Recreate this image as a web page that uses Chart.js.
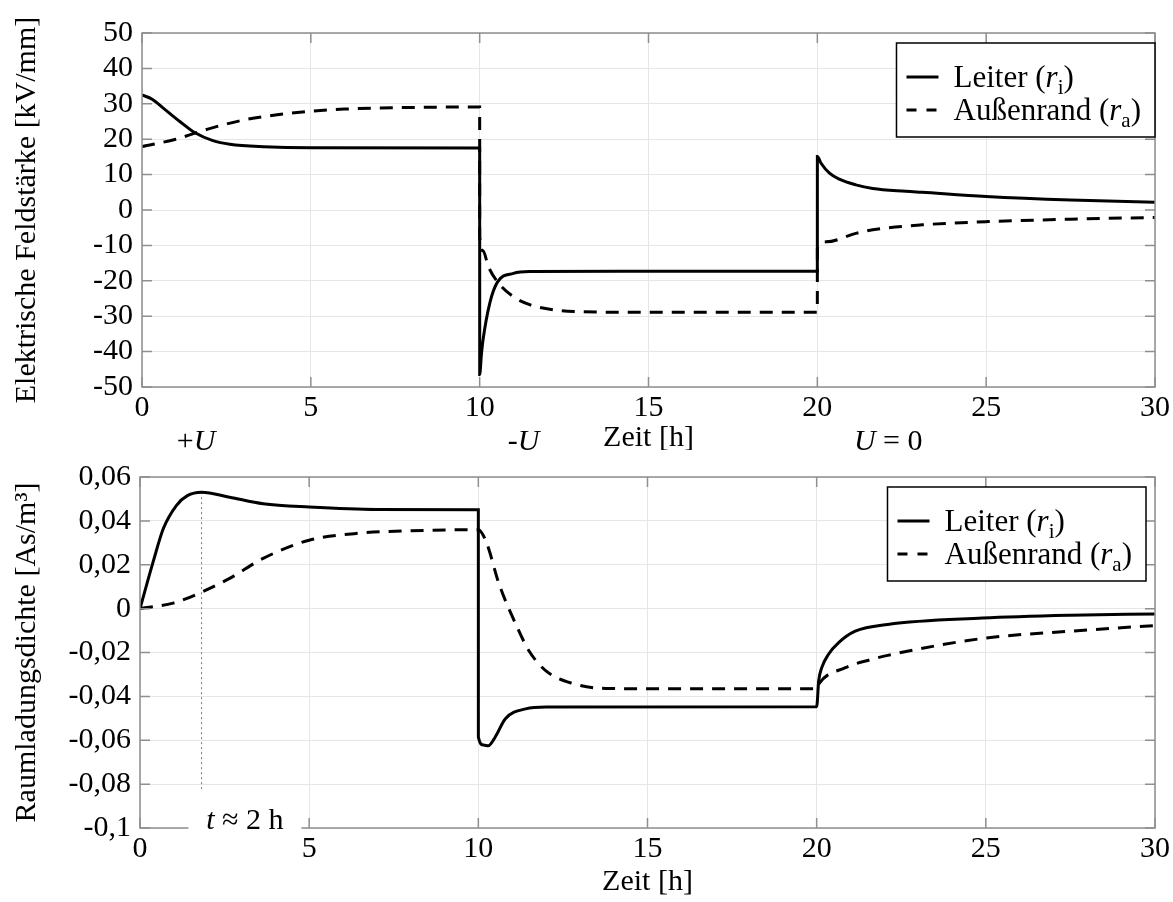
<!DOCTYPE html>
<html>
<head>
<meta charset="utf-8">
<script src="https://cdn.jsdelivr.net/npm/chart.js@4.4.0/dist/chart.umd.min.js"></script>
<style>
body { margin: 0; background: #fff; }
canvas { position: absolute; left: 0; }
#topChart { top: 0; }
#bottomChart { top: 450px; }
</style>
</head>
<body>
<canvas id="topChart" width="1173" height="450"></canvas>
<canvas id="bottomChart" width="1173" height="452"></canvas>
<script>
// Elektrische Feldstärke (oben), Zeit in h
const eLeiterT = [0, 0.3, 0.63, 1.12, 1.57, 2.1, 2.6, 3.6, 5, 10, 10.001, 10.05, 10.1, 10.3, 10.53, 11, 11.5, 15, 20, 20.001, 20.11, 20.36, 20.65, 21.14, 21.64, 22.62, 23.1, 25, 27.5, 30];
const eLeiterV = [32.5, 31.3, 28.8, 25.0, 21.8, 19.6, 18.6, 17.9, 17.6, 17.5, -46.5, -41, -36.7, -26.3, -20.3, -17.9, -17.4, -17.3, -17.3, 15.1, 13.2, 10.4, 8.7, 7.1, 6.1, 5.3, 5.0, 3.8, 2.8, 2.2];
const eAussenT = [0, 1, 1.57, 2, 3, 4, 5, 6, 7.5, 10, 10.001, 10.1, 10.25, 10.53, 11, 11.5, 12.2, 13, 15, 20, 20.001, 20.26, 21.14, 21.64, 23.1, 25, 27.5, 30];
const eAussenV = [17.9, 20.0, 21.7, 23.0, 25.4, 26.9, 27.9, 28.5, 28.9, 29.1, -7.5, -11.5, -15.8, -20.3, -24.5, -26.8, -28.2, -28.7, -28.9, -28.9, -10.8, -9.0, -6.6, -5.6, -4.2, -3.3, -2.6, -2.1];

// Raumladungsdichte (unten)
const rhoLeiterT = [0, 0.39, 0.69, 1.08, 1.4, 1.82, 2.65, 3.64, 5, 7, 10, 10.001, 10.15, 10.3, 10.5, 10.8, 11.4, 12, 20, 20.06, 20.15, 20.35, 20.65, 21.14, 22.1, 24.9, 27.5, 30];
const rhoLeiterV = [0, 0.0214, 0.0365, 0.0471, 0.0515, 0.0531, 0.0508, 0.0478, 0.0463, 0.0452, 0.0451, -0.0585, -0.0622, -0.0625, -0.0585, -0.0502, -0.0457, -0.0449, -0.0447, -0.0329, -0.0269, -0.0208, -0.0155, -0.0103, -0.0072, -0.0043, -0.003, -0.0024];
const rhoAussenT = [0, 0.98, 1.82, 2.65, 3.64, 5, 6.57, 8, 10, 10.23, 10.62, 11.11, 11.5, 12, 12.78, 13.77, 15, 20, 20.06, 20.85, 21.63, 22.1, 24.9, 27.5, 30];
const rhoAussenV = [0, 0.0025, 0.0075, 0.0138, 0.0229, 0.0312, 0.0345, 0.0355, 0.036, 0.0305, 0.0109, -0.0072, -0.0193, -0.0284, -0.0341, -0.0364, -0.0365, -0.0365, -0.0344, -0.0269, -0.0231, -0.0213, -0.0136, -0.0103, -0.0077];

// gestrichelte Markierung bei t ≈ 2 h
const markerT = [1.82, 1.82];
const markerV = [0.0531, -0.0834];

// Achsen
const xTicks = { min: 0, max: 30, step: 5 };
const eTicks = { min: -50, max: 50, step: 10 };
const rhoTicks = { min: -0.1, max: 0.06, step: 0.02 };

// Beschriftungen unter der oberen x-Achse
const stateLabels = ['+U', '-U', 'U = 0'];
const stateLabelAt = [1.6, 11.3, 22.1];

const SERIF = '"Liberation Serif", "Times New Roman", serif';
const FS = 30;
const LFS = 31;
Chart.defaults.font.family = SERIF;
Chart.defaults.color = '#000';

const pts = (t, v) => t.map((x, i) => ({ x: x, y: v[i] }));

// text with italic variable letters and subscripts
function fontFor(kind, size) {
    if (kind === 'i') return 'italic ' + size + 'px ' + SERIF;
    if (kind === 's') return Math.round(size * 0.68) + 'px ' + SERIF;
    return size + 'px ' + SERIF;
}

function richWidth(ctx, parts, size) {
    let w = 0;
    parts.forEach(p => { ctx.font = fontFor(p[1], size); w += ctx.measureText(p[0]).width; });
    return w;
}

function drawRich(ctx, parts, x, y, align, size) {
    const w = richWidth(ctx, parts, size);
    let cx = align === 'center' ? x - w / 2 : x;
    parts.forEach(p => {
        ctx.font = fontFor(p[1], size);
        ctx.fillText(p[0], cx, p[1] === 's' ? y + 7 : y);
        cx += ctx.measureText(p[0]).width;
    });
    return w;
}

function splitU(s) {
    return s.split('').map(c => [c, c === 'U' ? 'i' : 'n']);
}

const framePlugin = {
    id: 'frame',
    afterDatasetsDraw(chart, args, opts) {
        const { ctx, chartArea: a, scales } = chart;
        ctx.save();
        ctx.strokeStyle = '#8f8f8f';
        ctx.lineWidth = 1.5;
        ctx.beginPath();
        scales.x.ticks.forEach(t => {
            const px = scales.x.getPixelForValue(t.value);
            ctx.moveTo(px, a.bottom); ctx.lineTo(px, a.bottom - 10);
            ctx.moveTo(px, a.top); ctx.lineTo(px, a.top + 10);
        });
        scales.y.ticks.forEach(t => {
            const py = scales.y.getPixelForValue(t.value);
            ctx.moveTo(a.left, py); ctx.lineTo(a.left + 10, py);
            ctx.moveTo(a.right, py); ctx.lineTo(a.right - 10, py);
        });
        ctx.stroke();
        ctx.strokeRect(a.left, a.top, a.right - a.left, a.bottom - a.top);

        // Legende
        const L = opts.legend;
        const rows = [
            { dash: [], parts: [['Leiter (', 'n'], ['r', 'i'], ['i', 's'], [')', 'n']] },
            { dash: [10, 10], parts: [['Außenrand (', 'n'], ['r', 'i'], ['a', 's'], [')', 'n']] }
        ];
        ctx.textBaseline = 'alphabetic';
        const tw = Math.max.apply(null, rows.map(r => richWidth(ctx, r.parts, LFS)));
        const bw = 57 + tw + 14, bh = 94;
        const bx = a.right - L.right - bw, by = a.top + L.top;
        ctx.fillStyle = '#fff';
        ctx.fillRect(bx, by, bw, bh);
        ctx.strokeStyle = '#000';
        ctx.lineWidth = 1.5;
        ctx.strokeRect(bx, by, bw, bh);
        rows.forEach((r, i) => {
            const cy = by + 34 + i * 33;
            ctx.beginPath();
            ctx.setLineDash(r.dash);
            ctx.lineWidth = 3;
            ctx.moveTo(bx + 10, cy); ctx.lineTo(bx + 42, cy);
            ctx.stroke();
            ctx.setLineDash([]);
            ctx.fillStyle = '#000';
            drawRich(ctx, r.parts, bx + 57, cy + 10, 'left', LFS);
        });

        // Zusatzbeschriftungen
        (opts.notes || []).forEach(n => {
            const px = scales.x.getPixelForValue(n.t);
            const py = a.bottom + n.below;
            if (n.mask) {
                ctx.fillStyle = '#fff';
                ctx.fillRect(px - n.mask / 2, a.bottom - 4, n.mask, 8);
            }
            ctx.fillStyle = '#000';
            drawRich(ctx, n.parts, px, py, 'center', FS);
        });
        ctx.restore();
    }
};

function germanNum(v) {
    return Number(v.toFixed(2)).toString().replace('.', ',');
}

function makeOptions(yT, yTitle, yFmt, xTitle, frame, lay) {
    return {
        responsive: false,
        animation: false,
        layout: { padding: { top: lay.top, right: 16, left: 0, bottom: 0 } },
        plugins: { legend: { display: false }, tooltip: { enabled: false }, frame: frame },
        elements: { point: { radius: 0 } },
        scales: {
            x: {
                type: 'linear',
                min: xTicks.min, max: xTicks.max,
                ticks: { stepSize: xTicks.step, padding: 3, font: { size: FS }, maxRotation: 0, autoSkip: false },
                grid: { color: '#e6e6e6', drawTicks: false },
                border: { display: false },
                title: { display: true, text: xTitle.text, font: { size: FS, lineHeight: xTitle.lh }, padding: { top: 0, bottom: xTitle.pad } },
                afterFit: s => { s.height = lay.xh; }
            },
            y: {
                min: yT.min, max: yT.max,
                ticks: { stepSize: yT.step, padding: 9, font: { size: FS }, callback: yFmt, autoSkip: false },
                grid: { color: '#e6e6e6', drawTicks: false },
                border: { display: false },
                title: { display: true, text: yTitle, font: { size: FS }, padding: { top: 9, bottom: 0 } },
                afterFit: s => { s.width = lay.yw; }
            }
        }
    };
}

const solid = { borderColor: '#000', borderWidth: 3, cubicInterpolationMode: 'monotone', fill: false };
const dashed = Object.assign({}, solid, { borderDash: [13, 9] });

new Chart(document.getElementById('topChart'), {
    type: 'line',
    data: {
        datasets: [
            Object.assign({ label: 'Leiter (ri)', data: pts(eLeiterT, eLeiterV) }, solid),
            Object.assign({ label: 'Außenrand (ra)', data: pts(eAussenT, eAussenV) }, dashed)
        ]
    },
    options: makeOptions(eTicks, 'Elektrische Feldstärke [kV/mm]', v => String(v),
        { text: 'Zeit [h]', lh: 0.8, pad: 0 },
        {
            legend: { right: 0, top: 10 },
            notes: stateLabels.map((s, i) => ({ t: stateLabelAt[i], parts: splitU(s), below: 63 }))
        },
        { top: 33, xh: 63, yw: 142 }),
    plugins: [framePlugin]
});

new Chart(document.getElementById('bottomChart'), {
    type: 'line',
    data: {
        datasets: [
            Object.assign({ label: 'Leiter (ri)', data: pts(rhoLeiterT, rhoLeiterV) }, solid),
            Object.assign({ label: 'Außenrand (ra)', data: pts(rhoAussenT, rhoAussenV) }, dashed),
            { label: 't ≈ 2 h', data: pts(markerT, markerV), borderColor: '#777', borderWidth: 1, borderDash: [2, 3], tension: 0 }
        ]
    },
    options: makeOptions(rhoTicks, 'Raumladungsdichte [As/m³]', v => germanNum(v),
        { text: 'Zeit [h]', lh: 1.2, pad: 2 },
        {
            legend: { right: 9, top: 10 },
            notes: [{ t: 3.1, parts: [['t', 'i'], [' ≈ 2 h', 'n']], below: 1, mask: 113 }]
        },
        { top: 23, xh: 74, yw: 140 }),
    plugins: [framePlugin]
});
</script>
</body>
</html>
